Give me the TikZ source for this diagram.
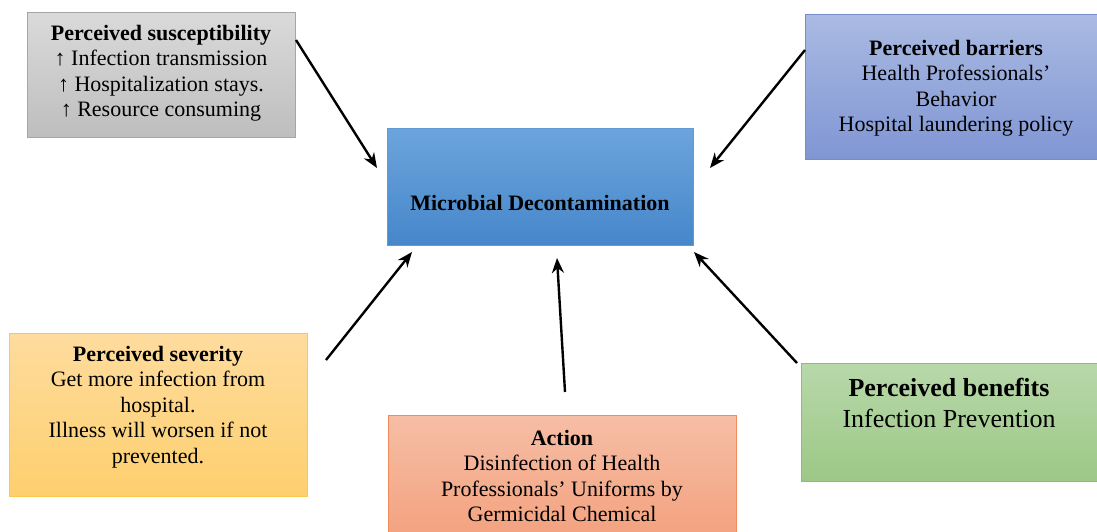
\documentclass[tikz,border=0pt]{standalone}
\usepackage{fontspec}
\setmainfont{Liberation Serif}
\usetikzlibrary{arrows.meta,positioning}
\definecolor{grayT}{RGB}{218,218,218}
\definecolor{grayB}{RGB}{190,190,190}
\definecolor{grayD}{RGB}{165,165,165}
\definecolor{blueT}{RGB}{170,186,226}
\definecolor{blueB}{RGB}{128,150,212}
\definecolor{blueD}{RGB}{120,140,200}
\definecolor{mainT}{RGB}{108,165,220}
\definecolor{mainB}{RGB}{70,134,202}
\definecolor{mainD}{RGB}{95,155,215}
\definecolor{yelT}{RGB}{254,220,158}
\definecolor{yelB}{RGB}{253,207,110}
\definecolor{yelD}{RGB}{250,200,80}
\definecolor{salT}{RGB}{246,190,166}
\definecolor{salB}{RGB}{243,160,124}
\definecolor{salD}{RGB}{240,140,90}
\definecolor{grnT}{RGB}{184,216,170}
\definecolor{grnB}{RGB}{156,200,134}
\definecolor{grnD}{RGB}{140,190,118}

\begin{document}
\begin{tikzpicture}[
    x=1pt,y=-1pt,
    box/.style n args={3}{rectangle,draw=#1,line width=0.8pt,
                top color=#2,bottom color=#3,inner sep=0pt},
    txt/.style={align=center,inner sep=0pt,
                font=\fontsize{22}{25.5}\selectfont},
    arr/.style={-{Stealth[length=15pt,width=12pt]},line width=2.4pt,black}
  ]
    \useasboundingbox (0,0) rectangle (1097,531);
    % boxes
    \node[box={grayD}{grayT}{grayB},minimum width=268pt,minimum height=125pt] (suscep) at (161,74.5) {};
    \node[box={blueD}{blueT}{blueB},minimum width=292pt,minimum height=145pt] (barrier) at (951,86.5) {};
    \node[box={mainD}{mainT}{mainB},minimum width=306pt,minimum height=117pt] (decon) at (540,186.5) {};
    \node[box={yelD}{yelT}{yelB},minimum width=298pt,minimum height=163pt] (severity) at (158,414.5) {};
    \node[box={salD}{salT}{salB},minimum width=348pt,minimum height=130pt] (action) at (562,480) {};
    \node[box={grnD}{grnT}{grnB},minimum width=296pt,minimum height=118pt] (benefit) at (949,422) {};
    % texts
    \node[txt] (suscepT) at (161,73) {\textbf{Perceived susceptibility}\\↑ Infection transmission\\↑ Hospitalization stays.\\↑ Resource consuming};
    \node[txt] (barrierT) at (956,88) {\textbf{Perceived barriers}\\Health Professionals’\\Behavior\\Hospital laundering policy};
    \node[txt] (deconT) at (540,203) {\textbf{Microbial Decontamination}};
    \node[txt] (severityT) at (158,407) {\textbf{Perceived severity}\\Get more infection from\\hospital.\\Illness will worsen if not\\prevented.};
    \node[txt] (actionT) at (562,476) {\textbf{Action}\\Disinfection of Health\\Professionals’ Uniforms by\\Germicidal Chemical};
    \node[txt,font=\fontsize{26}{30.5}\selectfont] (benefitT) at (949,403) {\textbf{Perceived benefits}\\Infection Prevention};
    % arrow ends
    \coordinate (s1) at (296,40);   \coordinate (e1) at (377,168);
    \coordinate (s2) at (805,50);   \coordinate (e2) at (710,168);
    \coordinate (s3) at (326,360);  \coordinate (e3) at (412,252);
    \coordinate (s4) at (565,392);  \coordinate (e4) at (557,258);
    \coordinate (s5) at (797,363);  \coordinate (e5) at (694,252);
    \foreach \i in {1,...,5}
      \draw[arr] (s\i) -- (e\i);
\end{tikzpicture}
\end{document}
